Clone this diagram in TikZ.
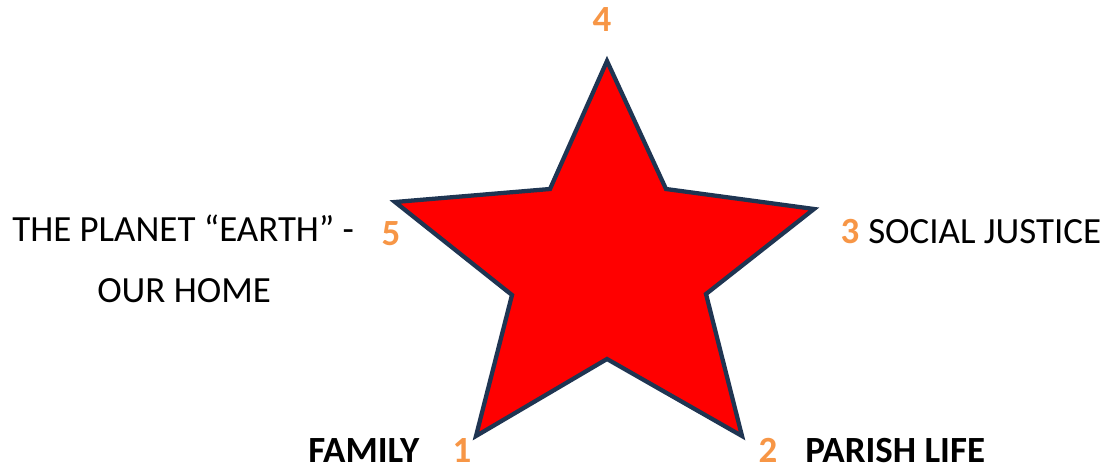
\documentclass[tikz,border=0pt]{standalone}
\usepackage{fontspec}
\setmainfont{Carlito}
\usepackage{tikz}
\usetikzlibrary{positioning}
\definecolor{starred}{RGB}{255,0,0}
\definecolor{starline}{RGB}{31,53,82}
\definecolor{numorange}{RGB}{247,150,70}
\newcommand\LabelFont{\fontsize{27.7}{33}\selectfont}
\tikzset{
  num/.style={
    anchor = base,
    font = \LabelFont\bfseries,
    text = numorange,
    text depth = 0pt,
    inner sep = 0pt
  },
  theme/.style={
    anchor = base west,
    font = \LabelFont,
    text depth = 0pt,
    inner sep = 0pt
  },
  themebold/.style={
    theme,
    font = \LabelFont\bfseries
  },
  starshape/.style={
    fill = starred,
    draw = starline,
    line width = 3.2pt,
    line join = miter
  }
}
\begin{document}
\begin{tikzpicture}[x=0.75pt,y=-0.75pt]
    \useasboundingbox (0,0) rectangle (1107,467);
    % outer tips
    \coordinate (tip4) at (607,61);
    \coordinate (tip3) at (814,209);
    \coordinate (tip2) at (742,436);
    \coordinate (tip1) at (476,436);
    \coordinate (tip5) at (395,202);
    % inner corners
    \coordinate (in43) at (666,189);
    \coordinate (in32) at (706,294);
    \coordinate (in21) at (607,359);
    \coordinate (in15) at (512,295);
    \coordinate (in54) at (550,189);

    \draw[starshape] (tip4) -- (in43) -- (tip3) -- (in32) -- (tip2) -- (in21)
        -- (tip1) -- (in15) -- (tip5) -- (in54) -- cycle;

    \node[num] (n4) at (602,32) {4};
    \node[num] (n5) at (391,245) {5};
    \node[num] (n3) at (850,243) {3};
    \node[num] (n1) at (462,462) {1};
    \node[num] (n2) at (768,462) {2};

    \node[theme] (planet) at (12,241) {THE PLANET “EARTH” -};
    \node[theme] (home) at (97,302) {OUR HOME};
    \node[theme] (justice) at (868,243) {SOCIAL JUSTICE};
    \node[themebold] (family) at (308,462) {FAMILY};
    \node[themebold] (parish) at (805,462) {PARISH LIFE};
\end{tikzpicture}
\end{document}
